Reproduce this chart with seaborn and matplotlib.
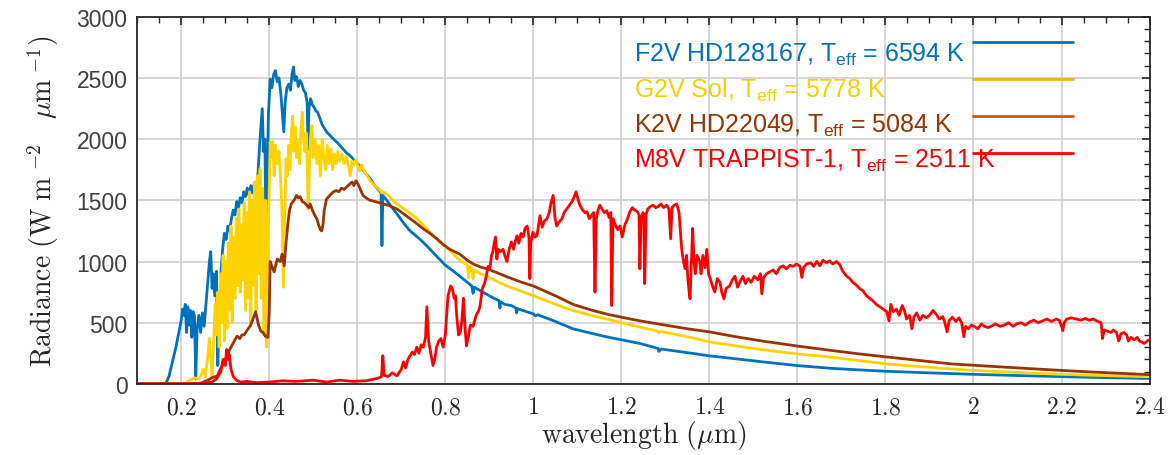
import numpy as np
import pandas as pd
import matplotlib
matplotlib.use("Agg")
import matplotlib.pyplot as plt
from matplotlib.lines import Line2D
from matplotlib.ticker import MultipleLocator
import seaborn as sns

# ---------------- data ----------------
f2v_wl = [0.10, 0.150, 0.165, 0.172, 0.180, 0.188, 0.195, 0.200, 0.203, 0.206, 0.209, 0.212, 0.215, 0.218,
          0.221, 0.224, 0.227, 0.230, 0.233, 0.236, 0.240, 0.244, 0.248, 0.252, 0.256, 0.260, 0.264, 0.267,
          0.270, 0.273, 0.276, 0.280, 0.283, 0.286, 0.290, 0.294, 0.298, 0.302, 0.306, 0.310, 0.314, 0.318,
          0.322, 0.326, 0.330, 0.334, 0.338, 0.342, 0.346, 0.350, 0.354, 0.358, 0.362, 0.366, 0.370, 0.374,
          0.378, 0.381, 0.384, 0.387, 0.390, 0.392, 0.395, 0.398, 0.402, 0.406, 0.410, 0.414, 0.418, 0.422,
          0.426, 0.430, 0.433, 0.436, 0.440, 0.444, 0.448, 0.452, 0.455, 0.458, 0.462, 0.466, 0.470, 0.474,
          0.478, 0.482, 0.486, 0.488, 0.490, 0.494, 0.498, 0.502, 0.506, 0.510, 0.515, 0.520, 0.525, 0.530,
          0.538, 0.546, 0.555, 0.565, 0.575, 0.585, 0.595, 0.606, 0.617, 0.629, 0.640, 0.650, 0.654, 0.656,
          0.658, 0.665, 0.675, 0.690, 0.704, 0.720, 0.743, 0.760, 0.781, 0.800, 0.815, 0.833, 0.850, 0.860,
          0.863, 0.866, 0.880, 0.895, 0.910, 0.922, 0.924, 0.926, 0.935, 0.950, 0.960, 0.962, 0.964, 0.980,
          1.000, 1.005, 1.010, 1.050, 1.090, 1.130, 1.167, 1.200, 1.242, 1.283, 1.285, 1.290, 1.350, 1.400,
          1.460, 1.520, 1.560, 1.598, 1.640, 1.673, 1.720, 1.800, 1.900, 2.000, 2.100, 2.200, 2.300, 2.400]
f2v_rad = [0, 0, 5, 60, 180, 300, 430, 520, 610, 560, 650, 420, 630, 480,
           600, 380, 590, 560, 40, 450, 560, 420, 580, 470, 640, 820, 1000, 1080,
           780, 900, 720, 920, 150, 550, 900, 1100, 1230, 1180, 1290, 1250, 1350, 1420,
           1380, 1490, 1440, 1520, 1480, 1570, 1530, 1600, 1540, 1620, 1560, 1640, 1580, 1700,
           1950, 2100, 2250, 1900, 2000, 1320, 1600, 2200, 2490, 2420, 2530, 2560, 2470, 2500,
           2380, 2200, 2060, 2300, 2420, 2450, 2400, 2540, 2590, 2480, 2510, 2430, 2480, 2450,
           2400, 2380, 2300, 1920, 2250, 2330, 2280, 2260, 2230, 2220, 2170, 2120, 2090, 2060,
           2030, 2000, 1970, 1930, 1890, 1860, 1820, 1780, 1730, 1680, 1620, 1580, 1560, 1130,
           1540, 1510, 1460, 1390, 1320, 1250, 1180, 1120, 1040, 970, 930, 880, 830, 800,
           740, 790, 760, 730, 700, 680, 620, 670, 650, 640, 620, 580, 615, 595,
           572, 555, 565, 510, 450, 415, 384, 360, 330, 290, 265, 285, 255, 229,
           205, 180, 165, 150, 138, 128, 118, 103, 90, 78, 68, 59, 51, 44]

g2v_wl = [0.10, 0.200, 0.210, 0.220, 0.230, 0.240, 0.245, 0.250, 0.255, 0.260, 0.264, 0.267, 0.270, 0.273,
          0.277, 0.280, 0.283, 0.286, 0.289, 0.292, 0.295, 0.298, 0.301, 0.304, 0.307, 0.310, 0.313, 0.316,
          0.319, 0.322, 0.325, 0.328, 0.331, 0.334, 0.337, 0.340, 0.343, 0.346, 0.349, 0.352, 0.355, 0.358,
          0.361, 0.364, 0.367, 0.370, 0.373, 0.376, 0.379, 0.382, 0.385, 0.388, 0.391, 0.394, 0.397, 0.400,
          0.402, 0.405, 0.408, 0.411, 0.414, 0.418, 0.422, 0.426, 0.429, 0.432, 0.435, 0.438, 0.441, 0.444,
          0.447, 0.450, 0.453, 0.456, 0.459, 0.462, 0.466, 0.469, 0.472, 0.475, 0.478, 0.481, 0.484, 0.487,
          0.488, 0.490, 0.493, 0.497, 0.500, 0.504, 0.508, 0.512, 0.516, 0.520, 0.524, 0.528, 0.532, 0.536,
          0.540, 0.544, 0.548, 0.552, 0.556, 0.560, 0.565, 0.570, 0.575, 0.580, 0.584, 0.588, 0.592, 0.596,
          0.600, 0.605, 0.610, 0.615, 0.620, 0.629, 0.640, 0.650, 0.656, 0.659, 0.670, 0.690, 0.710, 0.736,
          0.760, 0.790, 0.810, 0.830, 0.850, 0.853, 0.856, 0.860, 0.863, 0.866, 0.880, 0.895, 0.910, 0.940,
          0.970, 1.000, 1.050, 1.090, 1.130, 1.167, 1.200, 1.242, 1.283, 1.285, 1.290, 1.350, 1.400, 1.460,
          1.520, 1.598, 1.673, 1.740, 1.803, 1.880, 1.950, 2.000, 2.060, 2.150, 2.250, 2.400]
g2v_rad = [0, 0, 10, 30, 50, 40, 70, 120, 60, 220, 370, 200, 60, 300,
           650, 400, 750, 300, 900, 500, 1050, 350, 1000, 450, 1150, 600, 1290, 500,
           1200, 700, 1350, 800, 1430, 750, 1300, 850, 1480, 600, 1400, 700, 1570, 500,
           1500, 800, 1650, 600, 1700, 900, 1760, 700, 1600, 400, 1500, 300, 1200, 1600,
           1980, 1850, 1980, 1700, 1950, 1800, 1900, 1650, 1400, 790, 1300, 1840, 1700, 1950,
           1750, 2050, 2190, 1900, 2100, 1850, 1980, 1800, 2100, 2220, 2000, 1900, 2050, 1700,
           1430, 1600, 2000, 2110, 1850, 2000, 1800, 1950, 1700, 2000, 1850, 1750, 1950, 1800,
           1920, 1750, 1880, 1800, 1900, 1820, 1880, 1800, 1860, 1780, 1700, 1820, 1790, 1830,
           1800, 1740, 1790, 1740, 1720, 1660, 1620, 1590, 1560, 1570, 1540, 1470, 1420, 1350,
           1260, 1150, 1090, 1020, 970, 870, 960, 940, 860, 930, 900, 880, 850, 800,
           760, 720, 650, 600, 560, 530, 500, 465, 430, 415, 428, 385, 343, 310,
           280, 245, 220, 190, 163, 140, 123, 110, 100, 85, 72, 58]

k2v_wl = [0.10, 0.240, 0.250, 0.260, 0.270, 0.282, 0.290, 0.298, 0.304, 0.310, 0.316, 0.322, 0.327, 0.333,
          0.338, 0.343, 0.350, 0.357, 0.362, 0.369, 0.372, 0.376, 0.381, 0.386, 0.391, 0.397, 0.400, 0.402,
          0.406, 0.411, 0.418, 0.425, 0.429, 0.434, 0.438, 0.442, 0.446, 0.450, 0.454, 0.458, 0.462, 0.466,
          0.470, 0.475, 0.480, 0.485, 0.490, 0.493, 0.498, 0.503, 0.508, 0.512, 0.516, 0.519, 0.522, 0.525,
          0.530, 0.535, 0.540, 0.546, 0.552, 0.558, 0.564, 0.570, 0.576, 0.582, 0.588, 0.592, 0.597, 0.602,
          0.608, 0.613, 0.620, 0.629, 0.640, 0.650, 0.659, 0.670, 0.690, 0.705, 0.720, 0.735, 0.749, 0.765,
          0.781, 0.795, 0.810, 0.833, 0.850, 0.863, 0.880, 0.895, 0.920, 0.940, 0.970, 1.000, 1.050, 1.090,
          1.130, 1.167, 1.200, 1.242, 1.300, 1.350, 1.400, 1.460, 1.520, 1.598, 1.673, 1.740, 1.803, 1.880,
          1.950, 2.060, 2.150, 2.250, 2.400]
k2v_rad = [0, 0, 15, 30, 50, 65, 130, 180, 230, 280, 320, 360, 390, 370,
           400, 400, 440, 475, 520, 590, 540, 475, 430, 420, 390, 380, 600, 1000,
           960, 915, 1020, 1000, 1060, 965, 1150, 1300, 1420, 1470, 1490, 1510, 1540, 1520,
           1530, 1490, 1480, 1460, 1440, 1470, 1420, 1380, 1350, 1300, 1260, 1250, 1300, 1420,
           1510, 1530, 1550, 1570, 1580, 1570, 1600, 1590, 1610, 1630, 1650, 1620, 1660, 1630,
           1580, 1540, 1520, 1500, 1490, 1480, 1470, 1460, 1430, 1390, 1350, 1310, 1270, 1230,
           1185, 1140, 1100, 1060, 1010, 980, 955, 940, 905, 875, 835, 800, 720, 650,
           605, 570, 545, 515, 480, 450, 425, 385, 350, 310, 275, 245, 220, 190,
           163, 139, 120, 100, 75]

m8v_wl = [0.10, 0.200, 0.250, 0.270, 0.280, 0.290, 0.295, 0.300, 0.303, 0.306, 0.309, 0.313, 0.318, 0.325,
          0.335, 0.350, 0.370, 0.400, 0.430, 0.460, 0.500, 0.530, 0.560, 0.590, 0.620, 0.640, 0.650, 0.655,
          0.658, 0.661, 0.670, 0.680, 0.690, 0.700, 0.705, 0.710, 0.715, 0.720, 0.725, 0.730, 0.735, 0.740,
          0.745, 0.750, 0.755, 0.758, 0.762, 0.767, 0.772, 0.776, 0.780, 0.785, 0.790, 0.795, 0.800, 0.806,
          0.812, 0.816, 0.820, 0.823, 0.826, 0.830, 0.834, 0.838, 0.841, 0.845, 0.848, 0.852, 0.857, 0.863,
          0.870, 0.876, 0.879, 0.884, 0.889, 0.893, 0.897, 0.901, 0.905, 0.908, 0.911, 0.914, 0.917, 0.920,
          0.925, 0.931, 0.936, 0.940, 0.945, 0.950, 0.955, 0.960, 0.963, 0.967, 0.972, 0.977, 0.981, 0.986,
          0.990, 0.992, 0.994, 0.999, 1.004, 1.008, 1.012, 1.015, 1.020, 1.025, 1.031, 1.036, 1.040, 1.045,
          1.049, 1.053, 1.058, 1.065, 1.070, 1.076, 1.082, 1.088, 1.093, 1.097, 1.102, 1.106, 1.112, 1.117,
          1.122, 1.127, 1.133, 1.137, 1.140, 1.143, 1.147, 1.151, 1.156, 1.161, 1.167, 1.172, 1.176, 1.178,
          1.181, 1.186, 1.192, 1.197, 1.202, 1.208, 1.214, 1.219, 1.225, 1.230, 1.236, 1.240, 1.242, 1.245,
          1.249, 1.251, 1.253, 1.256, 1.260, 1.266, 1.272, 1.278, 1.284, 1.290, 1.296, 1.303, 1.308, 1.312,
          1.315, 1.320, 1.326, 1.331, 1.334, 1.337, 1.341, 1.345, 1.348, 1.351, 1.354, 1.356, 1.359, 1.362,
          1.365, 1.368, 1.372, 1.378, 1.381, 1.385, 1.390, 1.394, 1.398, 1.402, 1.407, 1.412, 1.418, 1.424,
          1.428, 1.433, 1.438, 1.446, 1.452, 1.458, 1.464, 1.470, 1.476, 1.482, 1.488, 1.495, 1.502, 1.510,
          1.516, 1.519, 1.523, 1.530, 1.537, 1.545, 1.552, 1.560, 1.567, 1.575, 1.583, 1.590, 1.598, 1.606,
          1.610, 1.614, 1.621, 1.630, 1.637, 1.644, 1.651, 1.658, 1.666, 1.673, 1.680, 1.689, 1.696, 1.703,
          1.712, 1.719, 1.726, 1.733, 1.741, 1.749, 1.757, 1.764, 1.771, 1.779, 1.787, 1.795, 1.803, 1.808,
          1.812, 1.818, 1.825, 1.831, 1.838, 1.843, 1.848, 1.855, 1.860, 1.865, 1.871, 1.878, 1.885, 1.893,
          1.900, 1.908, 1.915, 1.922, 1.930, 1.935, 1.940, 1.945, 1.952, 1.960, 1.967, 1.973, 1.978, 1.982,
          1.988, 1.995, 2.002, 2.010, 2.018, 2.025, 2.033, 2.040, 2.050, 2.060, 2.070, 2.080, 2.090, 2.098,
          2.108, 2.118, 2.127, 2.137, 2.147, 2.157, 2.167, 2.177, 2.188, 2.195, 2.200, 2.203, 2.206, 2.212,
          2.222, 2.234, 2.244, 2.254, 2.263, 2.272, 2.280, 2.286, 2.290, 2.293, 2.297, 2.305, 2.312, 2.318,
          2.325, 2.330, 2.335, 2.342, 2.348, 2.352, 2.358, 2.365, 2.372, 2.377, 2.383, 2.388, 2.395, 2.400]
m8v_rad = [0, 0, 5, 15, 40, 100, 200, 150, 280, 200, 240, 120, 60, 30,
           15, 20, 10, 15, 25, 20, 30, 15, 30, 20, 25, 40, 50, 60,
           230, 70, 60, 90, 65, 120, 180, 130, 200, 230, 260, 240, 300, 250,
           320, 300, 380, 630, 350, 250, 150, 200, 300, 350, 370, 300, 400, 720,
           800, 780, 700, 720, 550, 400, 420, 530, 700, 450, 310, 380, 480, 470,
           560, 600, 640, 780, 820, 880, 960, 940, 1050, 1080, 1150, 1200, 1020, 1100,
           1080, 1100, 1040, 1000, 1100, 1160, 1100, 1180, 1210, 1150, 1230, 1200, 1270, 1290,
           1200, 860, 1150, 1240, 1200, 1210, 1300, 1375, 1280, 1330, 1350, 1400, 1480, 1540,
           1360, 1290, 1320, 1350, 1400, 1430, 1460, 1490, 1530, 1570, 1500, 1460, 1420, 1400,
           1405, 1350, 1380, 1400, 750, 1350, 1420, 1460, 1430, 1400, 1415, 1360, 1400, 640,
           1350, 1300, 1260, 1290, 1200, 1300, 1350, 1405, 1440, 1420, 1410, 1380, 940, 1360,
           1400, 1390, 820, 1380, 1430, 1450, 1460, 1440, 1450, 1470, 1440, 1460, 1430, 1185,
           1440, 1460, 1470, 1400, 1250, 1100, 1000, 940, 1050, 860, 750, 695, 1000, 1270,
           1000, 900, 1050, 1000, 900, 1050, 950, 1100, 900, 860, 800, 750, 860, 830,
           750, 695, 780, 800, 850, 880, 790, 840, 880, 820, 860, 830, 880, 850,
           900, 735, 870, 900, 915, 930, 900, 950, 965, 940, 970, 960, 980, 960,
           870, 950, 980, 990, 960, 1000, 965, 1010, 990, 1005, 980, 1000, 975, 920,
           880, 860, 830, 810, 780, 760, 720, 700, 680, 650, 630, 610, 590, 515,
           650, 590, 610, 560, 640, 600, 530, 560, 450, 550, 580, 520, 560, 540,
           560, 600, 570, 530, 550, 500, 425, 520, 545, 510, 540, 500, 385, 470,
           450, 480, 470, 450, 490, 470, 460, 470, 490, 470, 480, 500, 470, 490,
           500, 480, 505, 520, 500, 515, 530, 510, 530, 520, 470, 435, 500, 530,
           540, 530, 520, 535, 520, 530, 515, 505, 500, 370, 440, 430, 420, 440,
           420, 350, 410, 420, 400, 350, 380, 360, 380, 350, 340, 330, 350, 360]

series_labels = ["F2V HD128167, T$_{\\rm eff}$ = 6594 K",
                 "G2V Sol, T$_{\\rm eff}$ = 5778 K",
                 "K2V HD22049, T$_{\\rm eff}$ = 5084 K",
                 "M8V TRAPPIST-1, T$_{\\rm eff}$ = 2511 K"]
curve_colors = ["#0072BD", "#FFD200", "#993300", "#FF0000"]
text_colors = ["#0072BD", "#F5D000", "#993300", "#FF0000"]
legend_line_colors = ["#0072BD", "#EDB120", "#D95319", "#FF0000"]

x_ticks = [0.2, 0.4, 0.6, 0.8, 1.0, 1.2, 1.4, 1.6, 1.8, 2.0, 2.2, 2.4]
x_tick_labels = ["0.2", "0.4", "0.6", "0.8", "1", "1.2", "1.4", "1.6", "1.8", "2", "2.2", "2.4"]
y_ticks = [0, 500, 1000, 1500, 2000, 2500, 3000]

# ---------------- style ----------------
sns.set_style("white")
plt.rcParams["font.family"] = ["Liberation Sans", "DejaVu Sans"]
plt.rcParams["mathtext.fontset"] = "custom"
plt.rcParams["mathtext.rm"] = "Liberation Sans"
plt.rcParams["mathtext.it"] = "Liberation Sans:italic"
plt.rcParams["mathtext.bf"] = "Liberation Sans:bold"

fig = plt.figure(figsize=(11.73, 4.56), dpi=100)
ax = fig.add_axes([0.117, 0.156, 0.863, 0.805])

frames = [(f2v_wl, f2v_rad), (g2v_wl, g2v_rad), (k2v_wl, k2v_rad), (m8v_wl, m8v_rad)]
for (wl, rad), col in zip(frames, curve_colors):
    df = pd.DataFrame({"wl": wl, "rad": rad})
    sns.lineplot(data=df, x="wl", y="rad", ax=ax, color=col, linewidth=2.0,
                 sort=False, estimator=None, legend=False)

ax.set_xlim(0.1, 2.4)
ax.set_ylim(0, 3000)
ax.set_xticks(x_ticks)
ax.set_xticklabels(["$" + t + "$" for t in x_tick_labels])
ax.set_yticks(y_ticks)
ax.xaxis.set_minor_locator(MultipleLocator(0.05))
ax.yaxis.set_minor_locator(MultipleLocator(100))

for lab in ax.get_xticklabels():
    lab.set_math_fontfamily("cm")
    lab.set_fontsize(17)
    lab.set_color("#262626")
for lab in ax.get_yticklabels():
    lab.set_fontsize(16.5)
    lab.set_color("#404040")

ax.tick_params(which="both", direction="in", top=True, right=True, color="#262626")
ax.tick_params(which="major", length=6, width=1.2)
ax.tick_params(which="minor", length=4, width=1.0)
ax.tick_params(axis="x", which="major", pad=9)
ax.tick_params(axis="y", which="major", pad=7)

ax.grid(True, which="major", color="#cfcfcf", linewidth=1.2)
ax.set_axisbelow(True)
for sp in ax.spines.values():
    sp.set_color("#262626")
    sp.set_linewidth(1.3)

ax.set_xlabel(r"$\mathrm{wavelength\ (}\mu\mathrm{m)}$", fontsize=20,
              math_fontfamily="cm", color="#262626", labelpad=0)
ax.set_ylabel(r"$\mathrm{Radiance\ (W\ m}^{\ \mathrm{-2}}\ \ \ \mu\mathrm{m}^{\ \mathrm{-1}}\mathrm{)}$",
              fontsize=20, math_fontfamily="cm", color="#262626", labelpad=11)

# legend: short lines at right (own column) + coloured texts (left-aligned column)
line_handles = [Line2D([], [], color=c, linewidth=2.0) for c in legend_line_colors]
leg_lines = ax.legend(line_handles, [""] * len(line_handles), loc="upper right",
                      bbox_to_anchor=(0.924, 0.958), markerfirst=False, frameon=False,
                      fontsize=18, labelspacing=0.52, borderpad=0, borderaxespad=0,
                      handlelength=4.0, handletextpad=0.0)
ax.add_artist(leg_lines)
blank_handles = [Line2D([], [], color="none") for _ in series_labels]
leg_text = ax.legend(blank_handles, series_labels, loc="upper left",
                     bbox_to_anchor=(0.4906, 0.935), markerfirst=True, frameon=False,
                     fontsize=18, labelspacing=0.36, borderpad=0, borderaxespad=0,
                     handlelength=0, handletextpad=0, labelcolor=text_colors)

fig.savefig("out.png", dpi=100)
